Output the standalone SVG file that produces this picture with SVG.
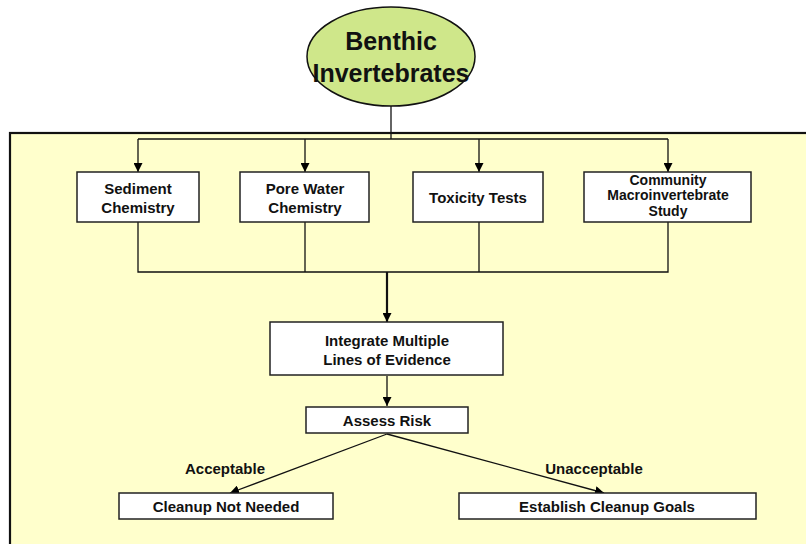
<svg xmlns="http://www.w3.org/2000/svg" width="806" height="544" viewBox="0 0 806 544">
<defs>
<marker id="ah" viewBox="0 0 10 10" refX="10" refY="5" markerWidth="9" markerHeight="9" markerUnits="userSpaceOnUse" orient="auto">
<path d="M0,0 L10,5 L0,10 z" fill="#000"/>
</marker>
<style>
.box{fill:#fff;stroke:#222;stroke-width:1.5}
.t{font-family:"Liberation Sans",Arial,sans-serif;font-weight:bold;font-size:15px;fill:#111;text-anchor:middle}
.big{font-size:25px}
.sm{font-size:14px}
.c{fill:none;stroke:#111;stroke-width:1.3}
.thick{stroke-width:2.2}
</style>
</defs>
<rect x="0" y="0" width="806" height="544" fill="#fff"/>
<rect id="panel" x="10" y="133" width="810" height="420" fill="#ffffcc" stroke="#111" stroke-width="2.2"/>
<g id="connectors">
<path class="c" d="M391,106 V139"/>
<path class="c" d="M138,139 H668"/>
<path class="c" d="M138,139 V172" marker-end="url(#ah)"/>
<path class="c" d="M305,139 V172" marker-end="url(#ah)"/>
<path class="c" d="M479,139 V172" marker-end="url(#ah)"/>
<path class="c" d="M668,139 V172" marker-end="url(#ah)"/>
<path class="c" d="M138,222 V272 H668 V222"/>
<path class="c" d="M305,222 V272"/>
<path class="c" d="M479,222 V272"/>
<path class="c thick" d="M387,272 V322" marker-end="url(#ah)"/>
<path class="c" d="M387,376 V406" marker-end="url(#ah)"/>
<path class="c" d="M387,434 L230,493" marker-end="url(#ah)"/>
<path class="c" d="M387,434 L604,493" marker-end="url(#ah)"/>
<text class="t" x="225" y="474">Acceptable</text>
<text class="t" x="594" y="474">Unacceptable</text>
</g>
<g id="benthic">
<ellipse cx="391" cy="56.5" rx="84" ry="49.5" fill="#cfe78a" stroke="#111" stroke-width="1.5"/>
<text class="t big" x="391" y="50">Benthic</text>
<text class="t big" x="391" y="82">Invertebrates</text>
</g>
<g id="sediment">
<rect class="box" x="77" y="172" width="122" height="50"/>
<text class="t" x="138" y="194">Sediment</text>
<text class="t" x="138" y="213">Chemistry</text>
</g>
<g id="porewater">
<rect class="box" x="240" y="172" width="129" height="50"/>
<text class="t" x="305" y="194">Pore Water</text>
<text class="t" x="305" y="213">Chemistry</text>
</g>
<g id="toxicity">
<rect class="box" x="413" y="172" width="130" height="50"/>
<text class="t" x="478" y="203">Toxicity Tests</text>
</g>
<g id="community">
<rect class="box" x="584" y="172" width="167" height="50"/>
<text class="t sm" x="668" y="184.5">Community</text>
<text class="t sm" x="668" y="200">Macroinvertebrate</text>
<text class="t sm" x="668" y="215.5">Study</text>
</g>
<g id="integrate">
<rect class="box" x="270" y="322" width="233" height="53"/>
<text class="t" x="387" y="346">Integrate Multiple</text>
<text class="t" x="387" y="365">Lines of Evidence</text>
</g>
<g id="assess">
<rect class="box" x="306" y="407" width="162" height="26"/>
<text class="t" x="387" y="426">Assess Risk</text>
</g>
<g id="notneeded">
<rect class="box" x="119" y="493" width="214" height="26"/>
<text class="t" x="226" y="512">Cleanup Not Needed</text>
</g>
<g id="goals">
<rect class="box" x="459" y="493" width="297" height="26"/>
<text class="t" x="607" y="512">Establish Cleanup Goals</text>
</g>
</svg>
